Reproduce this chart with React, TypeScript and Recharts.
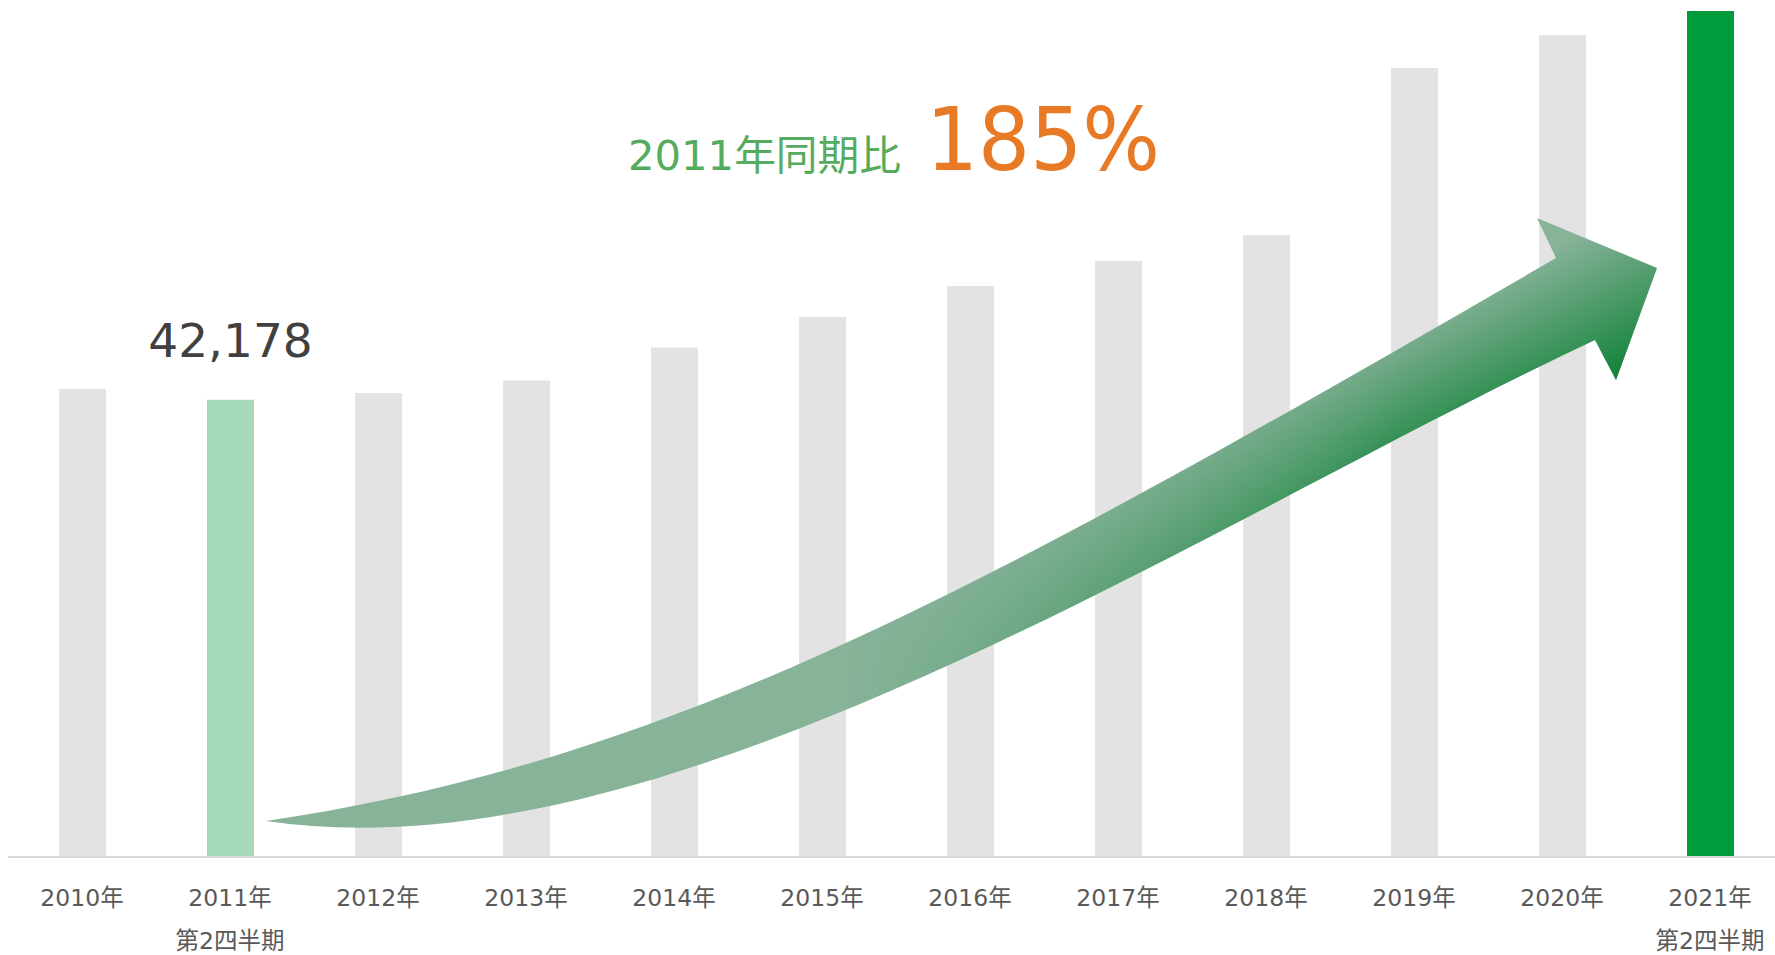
import React from "react";
import { BarChart, Bar, XAxis, YAxis, Cell, LabelList } from "recharts";

// 年ごとの値（2011年と2021年は第2四半期）
const years = ["2010年", "2011年", "2012年", "2013年", "2014年", "2015年", "2016年", "2017年", "2018年", "2019年", "2020年", "2021年"];
const subLabels = ["", "第2四半期", "", "", "", "", "", "", "", "", "", "第2四半期"];
const values = [43180, 42178, 42810, 43970, 47010, 49820, 52680, 54990, 57390, 72790, 75840, 78050];
const baseYear = "2011年";
const currentYear = "2021年";
const headline = "2011年同期比";
const ratioText = "185%";

const data = years.map((year, i) => ({ year, sub: subLabels[i], value: values[i] }));

const FONT = "'DejaVu Sans', 'Noto Sans CJK JP', sans-serif";

// 矢印（装飾）: 上辺・下辺をそれぞれ3次ベジェで、先端は折れ線
const arrowPath = [
  "M266,821",
  "C666,761 956,606 1556,258",
  "L1537,218 L1657,268 L1616,380 L1595,340",
  "C1195,528 666,881 266,821",
  "Z",
].join(" ");

const barColor = (year: string) =>
  year === currentYear ? "#009B3A" : year === baseYear ? "#A5D9B9" : "#E3E3E3";

const YearTick = (props: any) => {
  const { x, y, payload } = props;
  const sub = subLabels[years.indexOf(payload.value)];
  return (
    <g>
      <text x={x} y={y + 49} textAnchor="middle" fill="#595959" fontSize={23.5} fontFamily={FONT}>
        {payload.value}
      </text>
      {sub ? (
        <text x={x} y={y + 92} textAnchor="middle" fill="#595959" fontSize={23.5} fontFamily={FONT}>
          {sub}
        </text>
      ) : null}
    </g>
  );
};

const BaseLabel = (props: any) => {
  const { x, y, width, value, index } = props;
  if (years[index] !== baseYear) return null;
  return (
    <text x={x + width / 2} y={y - 43} textAnchor="middle" fill="#404040" fontSize={47} fontFamily={FONT}>
      {Number(value).toLocaleString("en-US")}
    </text>
  );
};

export default function App() {
  return (
    <div style={{ position: "absolute", left: 0, top: 0, width: 1775, height: 955, overflow: "hidden", background: "#fff" }}>
      <BarChart width={1784} height={955} data={data} margin={{ top: 11, right: 0, bottom: 0, left: 8 }}>
        <YAxis hide domain={[0, "dataMax"]} />
        <XAxis
          dataKey="year"
          height={98}
          tickLine={false}
          tickSize={0}
          tickMargin={0}
          interval={0}
          axisLine={{ stroke: "#D9D9D9", strokeWidth: 2 }}
          tick={<YearTick />}
        />
        <Bar dataKey="value" barSize={47} isAnimationActive={false}>
          {data.map((d) => (
            <Cell key={d.year} fill={barColor(d.year)} />
          ))}
          <LabelList dataKey="value" content={<BaseLabel />} />
        </Bar>
      </BarChart>
      <svg width={1775} height={955} style={{ position: "absolute", left: 0, top: 0, pointerEvents: "none" }}>
        <defs>
          <linearGradient id="arrowShade" gradientUnits="userSpaceOnUse" x1={1450} y1={300} x2={1516} y2={432}>
            <stop offset="0" stopColor="#0E8136" stopOpacity={0} />
            <stop offset="1" stopColor="#0E8136" stopOpacity={1} />
          </linearGradient>
          <linearGradient id="arrowFade" gradientUnits="userSpaceOnUse" x1={850} y1={0} x2={1400} y2={0}>
            <stop offset="0" stopColor="#000" />
            <stop offset="1" stopColor="#fff" />
          </linearGradient>
          <mask id="arrowMask" maskUnits="userSpaceOnUse" x={0} y={0} width={1775} height={955}>
            <rect x={0} y={0} width={1775} height={955} fill="url(#arrowFade)" />
          </mask>
        </defs>
        <path d={arrowPath} fill="#87B399" />
        <path d={arrowPath} fill="url(#arrowShade)" mask="url(#arrowMask)" />
        <text x={628} y={170} fill="#55AB5E" fontSize={41} fontFamily={FONT} textLength={273} lengthAdjust="spacingAndGlyphs">
          {headline}
        </text>
        <text x={926} y={170} fill="#E87A25" fontSize={88} fontFamily={FONT} textLength={234} lengthAdjust="spacingAndGlyphs">
          {ratioText}
        </text>
      </svg>
    </div>
  );
}
